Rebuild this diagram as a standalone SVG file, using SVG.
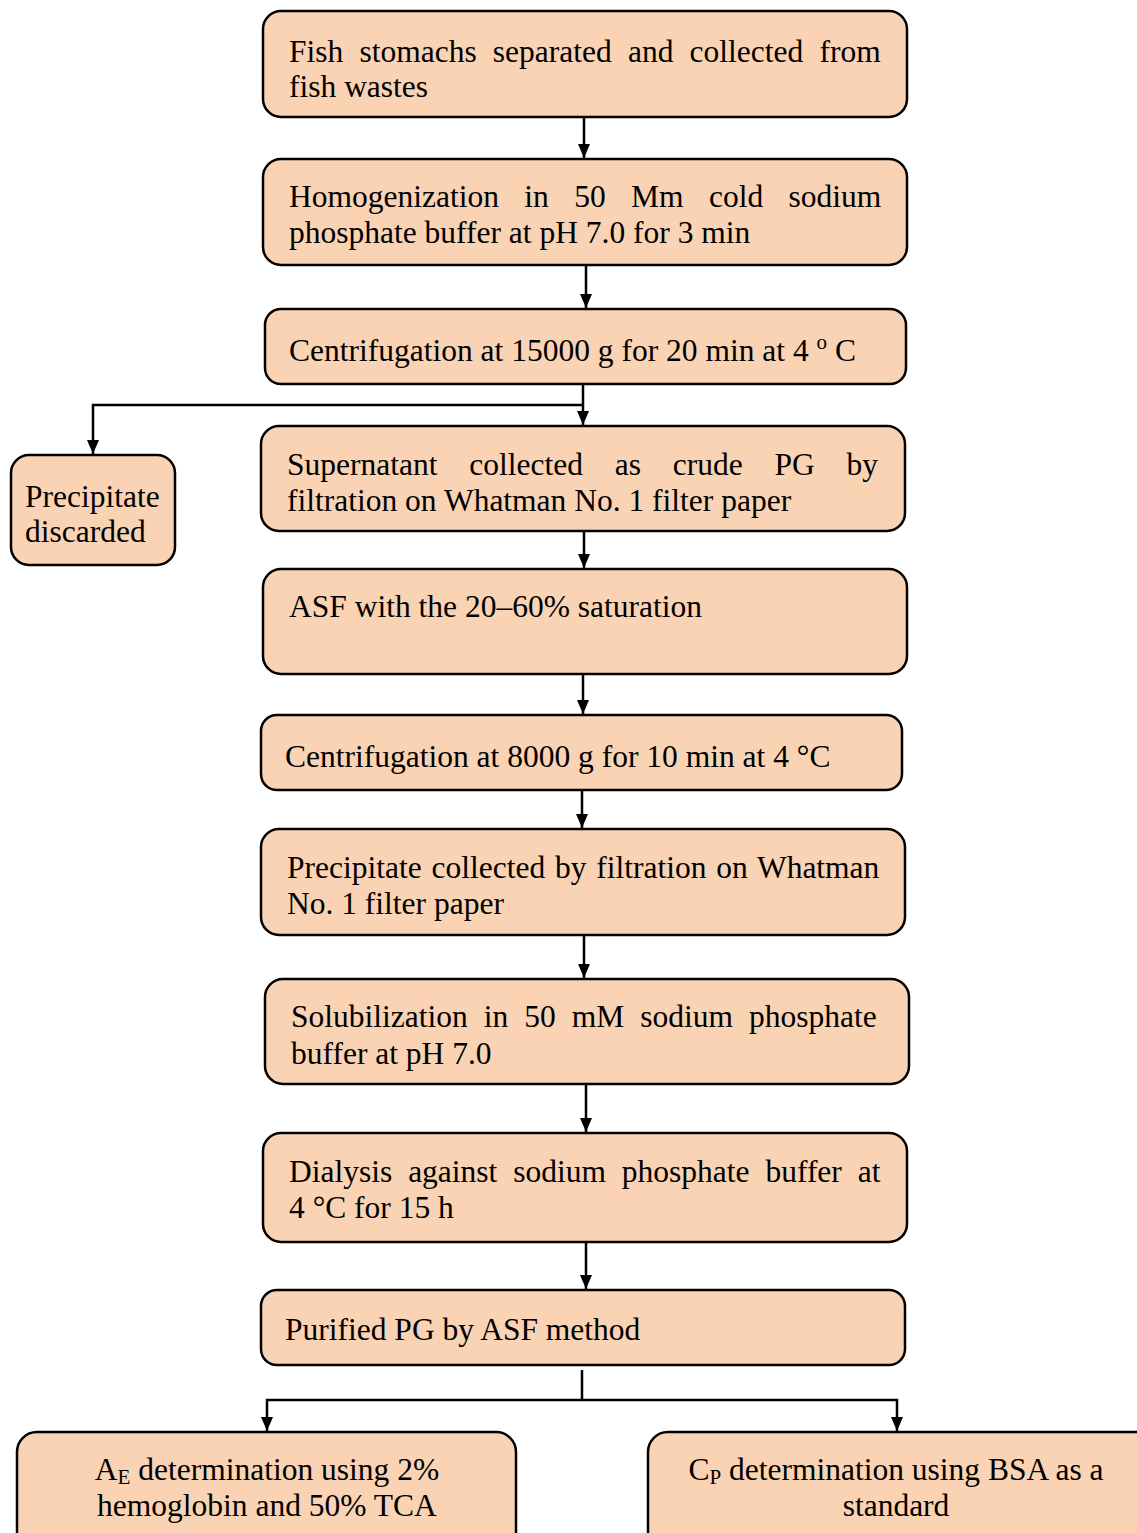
<svg xmlns="http://www.w3.org/2000/svg" width="1137" height="1533" viewBox="0 0 1137 1533">
<style>
.box{fill:#F9D3B3;stroke:#000;stroke-width:2.5}
.t{font-family:"Liberation Serif","Times New Roman",serif;font-size:31.5px;fill:#000}
.c{text-anchor:middle}
.ln{stroke:#000;stroke-width:2.5;fill:none}
</style>
<defs>
<marker id="arr" markerWidth="14" markerHeight="12" refX="14" refY="6" orient="auto" markerUnits="userSpaceOnUse" viewBox="0 0 14 12">
<path d="M0,0 L14,6 L0,12 Z" fill="#000"/>
</marker>
</defs>
<rect width="1137" height="1533" fill="#fff"/>

<g id="connectors">
<path class="ln" d="M584,117 V158" marker-end="url(#arr)"/>
<path class="ln" d="M586,265 V308" marker-end="url(#arr)"/>
<path class="ln" d="M583,384 V425" marker-end="url(#arr)"/>
<path class="ln" d="M583,405 H93 V454" marker-end="url(#arr)"/>
<path class="ln" d="M584,531 V568" marker-end="url(#arr)"/>
<path class="ln" d="M583,674 V714" marker-end="url(#arr)"/>
<path class="ln" d="M582,790 V828" marker-end="url(#arr)"/>
<path class="ln" d="M584,935 V978" marker-end="url(#arr)"/>
<path class="ln" d="M586,1084 V1132" marker-end="url(#arr)"/>
<path class="ln" d="M586,1242 V1289" marker-end="url(#arr)"/>
<path class="ln" d="M582,1370 V1400"/>
<path class="ln" d="M582,1400 H267 V1431" marker-end="url(#arr)"/>
<path class="ln" d="M582,1400 H897 V1431" marker-end="url(#arr)"/>
</g>

<g id="n1">
<rect class="box" x="263" y="11" width="644" height="106" rx="18"/>
<text class="t" x="289" y="62" word-spacing="8.3">Fish stomachs separated and collected from</text>
<text class="t" x="289" y="97">fish wastes</text>
</g>

<g id="n2">
<rect class="box" x="263" y="159" width="644" height="106" rx="18"/>
<text class="t" x="289" y="207" word-spacing="17.5">Homogenization in 50 Mm cold sodium</text>
<text class="t" x="289" y="243">phosphate buffer at pH 7.0 for 3 min</text>
</g>

<g id="n3">
<rect class="box" x="265" y="309" width="641" height="75" rx="16"/>
<text class="t" x="289" y="361">Centrifugation at 15000 g for 20 min at 4 <tspan dy="-12" font-size="21">o</tspan><tspan dy="12"> C</tspan></text>
</g>

<g id="n4">
<rect class="box" x="11" y="455" width="164" height="110" rx="18"/>
<text class="t" x="25" y="507">Precipitate</text>
<text class="t" x="25" y="542">discarded</text>
</g>

<g id="n5">
<rect class="box" x="261" y="426" width="644" height="105" rx="18"/>
<text class="t" x="287" y="475" word-spacing="23.9">Supernatant collected as crude PG by</text>
<text class="t" x="287" y="511">filtration on Whatman No. 1 filter paper</text>
</g>

<g id="n6">
<rect class="box" x="263" y="569" width="644" height="105" rx="18"/>
<text class="t" x="289" y="617">ASF with the 20–60% saturation</text>
</g>

<g id="n7">
<rect class="box" x="261" y="715" width="641" height="75" rx="16"/>
<text class="t" x="285" y="767">Centrifugation at 8000 g for 10 min at 4 °C</text>
</g>

<g id="n8">
<rect class="box" x="261" y="829" width="644" height="106" rx="18"/>
<text class="t" x="287" y="878" word-spacing="1.9">Precipitate collected by filtration on Whatman</text>
<text class="t" x="287" y="914">No. 1 filter paper</text>
</g>

<g id="n9">
<rect class="box" x="265" y="979" width="644" height="105" rx="18"/>
<text class="t" x="291" y="1027" word-spacing="8.1">Solubilization in 50 mM sodium phosphate</text>
<text class="t" x="291" y="1064">buffer at pH 7.0</text>
</g>

<g id="n10">
<rect class="box" x="263" y="1133" width="644" height="109" rx="18"/>
<text class="t" x="289" y="1182" word-spacing="8.0">Dialysis against sodium phosphate buffer at</text>
<text class="t" x="289" y="1218">4 °C for 15 h</text>
</g>

<g id="n11">
<rect class="box" x="261" y="1290" width="644" height="75" rx="16"/>
<text class="t" x="285" y="1340">Purified PG by ASF method</text>
</g>

<g id="n12">
<rect class="box" x="17" y="1432" width="499" height="120" rx="20"/>
<text class="t c" x="267" y="1480">A<tspan font-size="21" dy="4">E</tspan><tspan dy="-4"> determination using 2%</tspan></text>
<text class="t c" x="267" y="1516">hemoglobin and 50% TCA</text>
</g>

<g id="n13">
<rect class="box" x="648" y="1432" width="520" height="120" rx="20"/>
<text class="t c" x="896" y="1480">C<tspan font-size="21" dy="4">P</tspan><tspan dy="-4"> determination using BSA as a</tspan></text>
<text class="t c" x="896" y="1516">standard</text>
</g>
</svg>
